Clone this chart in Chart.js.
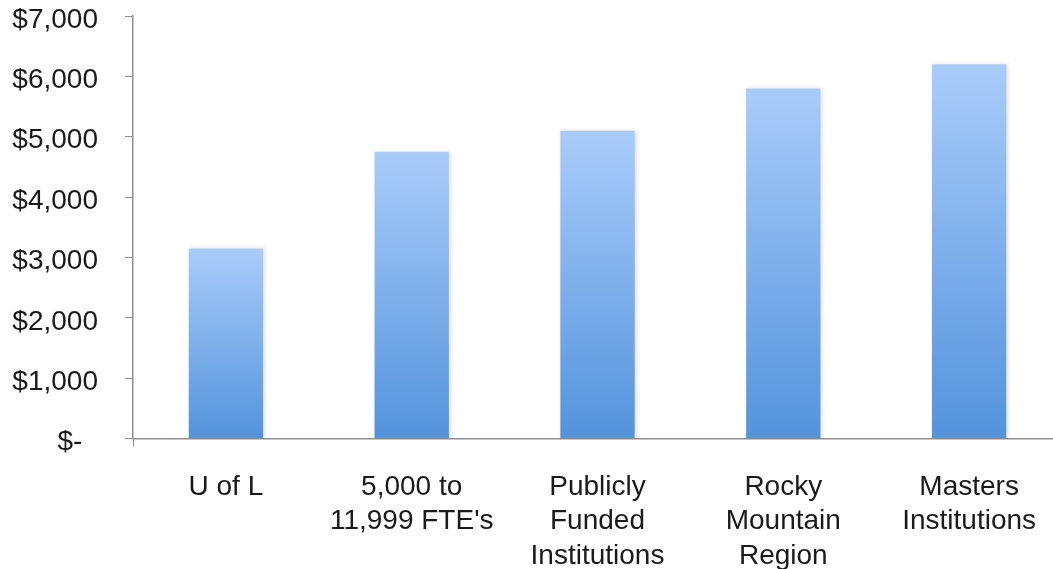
<!DOCTYPE html>
<html>
<head>
<meta charset="utf-8">
<script src="https://cdn.jsdelivr.net/npm/chart.js@4/dist/chart.umd.min.js"></script>
<style>
html, body { margin: 0; padding: 0; overflow: hidden; background: #ffffff; }
#wrap { width: 1062px; height: 569px; }
</style>
</head>
<body>
<div id="wrap"><canvas id="c" width="1062" height="569"></canvas></div>
<script>
const categories = [
  ['U of L'],
  ['5,000 to', "11,999 FTE's"],
  ['Publicly', 'Funded', 'Institutions'],
  ['Rocky', 'Mountain', 'Region'],
  ['Masters', 'Institutions']
];
const values = [3150, 4750, 5100, 5800, 6200];
const yTickLabels = ['$-  ', '$1,000', '$2,000', '$3,000', '$4,000', '$5,000', '$6,000', '$7,000'];

const AXIS_COLOR = '#8f8f8f';
const FONT = 'Liberation Sans, Arial, Helvetica, sans-serif';

function barGradient(ctx) {
  const chart = ctx.chart;
  const y = chart.scales && chart.scales.y;
  if (!chart.chartArea || !y) return '#7fb0ee';
  const v = ctx.raw;
  const top = y.getPixelForValue(v);
  const bottom = y.getPixelForValue(0);
  const g = chart.ctx.createLinearGradient(0, top, 0, bottom);
  g.addColorStop(0, '#a9ccfa');
  g.addColorStop(1, '#5393dc');
  return g;
}

const shadowPlugin = {
  id: 'barShadow',
  beforeDatasetsDraw(chart) {
    const c = chart.ctx;
    c.save();
    c.shadowColor = 'rgba(0,0,0,0.12)';
    c.shadowBlur = 4;
    c.shadowOffsetX = 2;
    c.shadowOffsetY = 0;
  },
  afterDatasetsDraw(chart) {
    chart.ctx.restore();
  }
};

new Chart(document.getElementById('c'), {
  type: 'bar',
  data: {
    labels: categories,
    datasets: [{
      data: values,
      backgroundColor: barGradient,
      borderWidth: 0,
      barPercentage: 0.4,
      categoryPercentage: 1.0
    }]
  },
  options: {
    responsive: false,
    devicePixelRatio: 1,
    animation: false,
    layout: { padding: { left: 0, right: 0, top: 16, bottom: 0 } },
    plugins: { legend: { display: false }, tooltip: { enabled: false } },
    scales: {
      x: {
        offset: true,
        grid: {
          display: true,
          drawOnChartArea: false,
          tickLength: 8,
          color: (c) => (c.index === 0 ? AXIS_COLOR : 'rgba(0,0,0,0)')
        },
        border: { display: true, color: AXIS_COLOR, width: 1.5 },
        ticks: {
          color: '#1a1a1a',
          font: { family: FONT, size: 28, lineHeight: 1.22 },
          padding: 24,
          maxRotation: 0,
          autoSkip: false
        },
        afterFit(scale) {
          scale.height = 130.5;
          scale.paddingTop = 0; scale.paddingBottom = 0;
          scale.paddingLeft = 0; scale.paddingRight = 0;
        }
      },
      y: {
        min: 0,
        max: 7000,
        ticks: {
          stepSize: 1000,
          color: '#1a1a1a',
          font: { family: FONT, size: 28 },
          padding: 27,
          labelOffset: 4,
          callback: (v, i) => yTickLabels[i]
        },
        grid: {
          display: true,
          drawOnChartArea: false,
          tickLength: 8,
          color: AXIS_COLOR
        },
        border: { display: true, color: AXIS_COLOR, width: 1.5 },
        afterFit(scale) {
          scale.width = 133;
          scale.paddingTop = 0; scale.paddingBottom = 0;
          scale.paddingLeft = 0; scale.paddingRight = 0;
        }
      }
    }
  },
  plugins: [shadowPlugin]
});
</script>
</body>
</html>
